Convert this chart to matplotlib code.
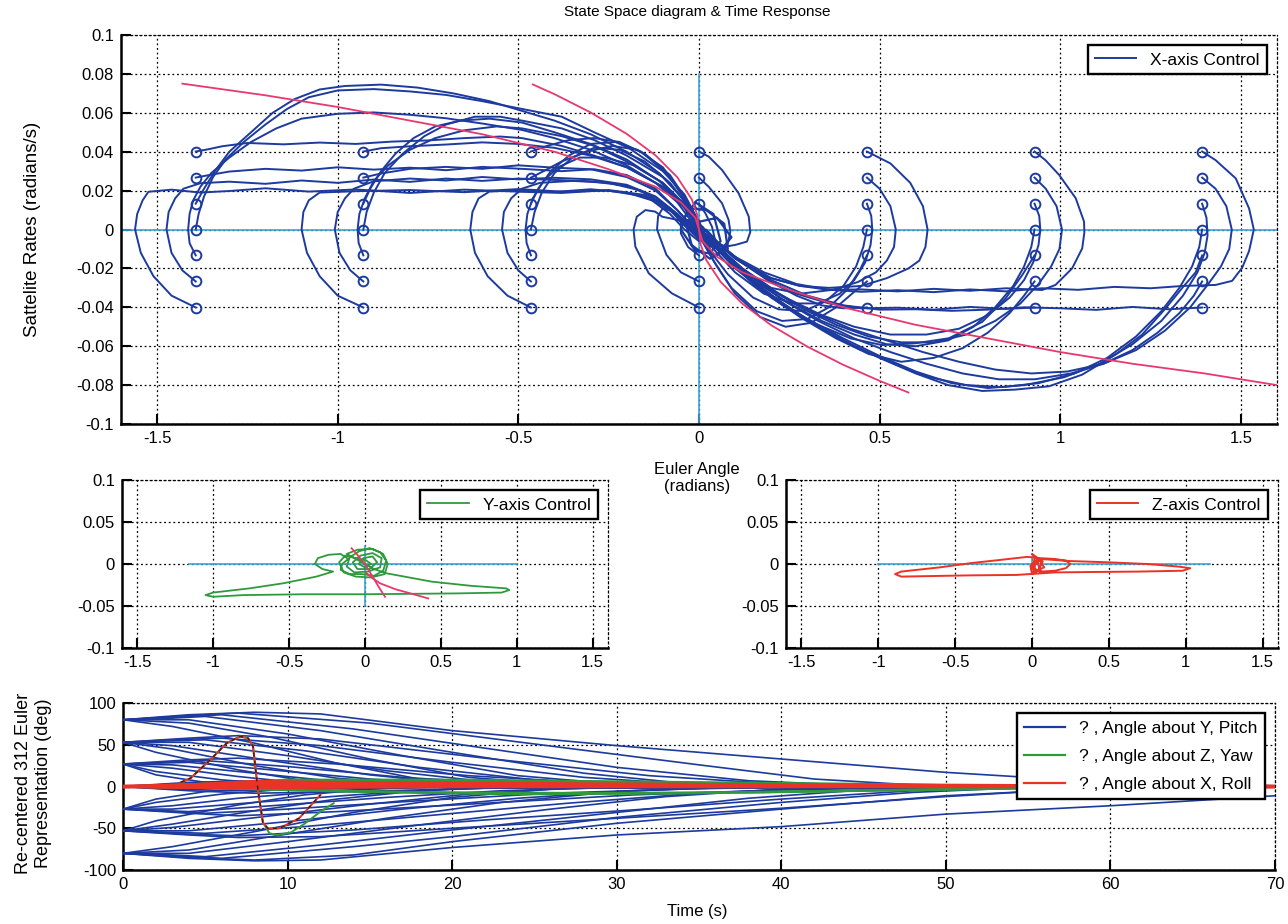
import matplotlib.pyplot as plt
from matplotlib.ticker import FuncFormatter

plt.rcParams['font.family'] = ['Liberation Sans', 'DejaVu Sans']
plt.rcParams['axes.unicode_minus'] = False

BLUE = '#1d3a9e'
GREEN = '#2f9a3c'
RED = '#ea3326'
PINK = '#e8386d'
CYAN = '#3aa6d8'

# ---- X-axis phase plane: starting grid (rad, rad/s) ----
start_angles = [-1.393, -0.929, -0.465, 0.0, 0.465, 0.929, 1.393]
start_rates = [-0.0401, -0.0267, -0.0133, 0.0, 0.0133, 0.0267, 0.0401]

# trajectories per starting angle, lowest starting rate first
col_a = [
    [(-1.393,-0.0401),(-1.46,-0.034),(-1.51,-0.024),(-1.545,-0.012),(-1.561,0.0),(-1.555,0.008),(-1.54,0.015),(-1.524,0.0194),(-1.46,0.0205),(-1.38,0.019),(-1.30,0.0198),(-1.20,0.0212),(-1.08,0.0195),(-0.95,0.0206),(-0.80,0.0188),(-0.65,0.0205),(-0.49,0.0194),(-0.38,0.0188),(-0.25,0.0203),(-0.15,0.0178),(-0.08,0.011),(-0.04,0.003),(0.0,-0.004),(0.02,-0.008),(0.01,-0.002),(0.0,0.0)],
    [(-1.393,-0.0267),(-1.43,-0.021),(-1.46,-0.012),(-1.474,0.0),(-1.468,0.009),(-1.45,0.016),(-1.427,0.021),(-1.38,0.0238),(-1.30,0.0246),(-1.20,0.0235),(-1.10,0.0252),(-1.0,0.024),(-0.90,0.0257),(-0.80,0.0245),(-0.70,0.0262),(-0.60,0.025),(-0.50,0.0262),(-0.40,0.0255),(-0.30,0.0248),(-0.20,0.0225),(-0.12,0.0165),(-0.06,0.008),(-0.02,0.0),(0.01,-0.005),(0.0,0.0)],
    [(-1.393,-0.0133),(-1.41,-0.007),(-1.414,0.0),(-1.41,0.008),(-1.40,0.015),(-1.38,0.022),(-1.35,0.029),(-1.30,0.037),(-1.24,0.045),(-1.17,0.052),(-1.10,0.057),(-1.00,0.0595),(-0.90,0.0602),(-0.80,0.059),(-0.70,0.0572),(-0.60,0.0545),(-0.49,0.0512),(-0.40,0.047),(-0.30,0.041),(-0.20,0.033),(-0.12,0.024),(-0.06,0.014),(-0.02,0.004),(0.01,-0.004),(0.03,-0.010),(0.01,-0.003),(0.0,0.0)],
    [(-1.393,0.0),(-1.385,0.008),(-1.37,0.017),(-1.345,0.027),(-1.31,0.036),(-1.26,0.045),(-1.20,0.054),(-1.14,0.062),(-1.08,0.068),(-1.00,0.0715),(-0.90,0.0722),(-0.80,0.071),(-0.70,0.0692),(-0.60,0.066),(-0.49,0.062),(-0.38,0.058),(-0.29,0.050),(-0.195,0.042),(-0.10,0.030),(-0.04,0.018),(0.0,0.004),(0.03,-0.008),(0.02,-0.004),(0.0,0.0)],
    [(-1.393,0.0133),(-1.37,0.021),(-1.34,0.030),(-1.30,0.040),(-1.24,0.050),(-1.18,0.060),(-1.12,0.067),(-1.05,0.072),(-0.98,0.0738),(-0.88,0.0745),(-0.78,0.073),(-0.68,0.070),(-0.58,0.066),(-0.49,0.061),(-0.40,0.056),(-0.30,0.049),(-0.20,0.040),(-0.11,0.029),(-0.05,0.017),(-0.01,0.005),(0.02,-0.006),(0.0,0.0)],
    [(-1.393,0.0267),(-1.35,0.0282),(-1.30,0.0298),(-1.20,0.0312),(-1.10,0.0303),(-1.00,0.032),(-0.90,0.0308),(-0.80,0.0318),(-0.70,0.0305),(-0.60,0.0322),(-0.49,0.0312),(-0.38,0.030),(-0.29,0.031),(-0.20,0.028),(-0.12,0.021),(-0.06,0.010),(-0.02,0.002),(0.01,-0.004),(0.0,0.0)],
    [(-1.393,0.0401),(-1.36,0.0412),(-1.32,0.0428),(-1.25,0.0445),(-1.15,0.0438),(-1.05,0.0447),(-0.95,0.044),(-0.85,0.0452),(-0.75,0.0458),(-0.65,0.047),(-0.55,0.0478),(-0.49,0.047),(-0.38,0.043),(-0.29,0.038),(-0.20,0.032),(-0.10,0.022),(-0.04,0.012),(0.0,0.0)],
]
col_b = [
    [(-0.929,-0.0401),(-1.0,-0.034),(-1.05,-0.024),(-1.085,-0.012),(-1.10,0.0),(-1.095,0.009),(-1.08,0.015),(-1.05,0.019),(-0.95,0.0197),(-0.80,0.0203),(-0.65,0.0192),(-0.50,0.0208),(-0.38,0.0195),(-0.25,0.020),(-0.15,0.017),(-0.08,0.010),(-0.04,0.002),(0.0,-0.005),(0.02,-0.007),(0.0,0.0)],
    [(-0.929,-0.0267),(-0.965,-0.021),(-0.995,-0.012),(-1.008,0.0),(-1.0,0.009),(-0.98,0.016),(-0.955,0.021),(-0.90,0.0248),(-0.80,0.0262),(-0.70,0.0252),(-0.60,0.027),(-0.50,0.0258),(-0.40,0.0266),(-0.30,0.0258),(-0.20,0.023),(-0.12,0.017),(-0.06,0.008),(-0.02,0.0),(0.01,-0.005),(0.0,0.0)],
    [(-0.929,-0.0133),(-0.942,-0.007),(-0.945,0.0),(-0.94,0.008),(-0.925,0.016),(-0.90,0.025),(-0.86,0.033),(-0.80,0.041),(-0.73,0.047),(-0.65,0.051),(-0.56,0.053),(-0.49,0.052),(-0.38,0.048),(-0.29,0.043),(-0.20,0.035),(-0.10,0.024),(-0.04,0.013),(0.0,0.002),(0.02,-0.006),(0.0,0.0)],
    [(-0.929,0.0),(-0.92,0.009),(-0.90,0.019),(-0.87,0.029),(-0.82,0.039),(-0.76,0.048),(-0.70,0.054),(-0.62,0.058),(-0.55,0.058),(-0.49,0.056),(-0.38,0.052),(-0.29,0.046),(-0.20,0.038),(-0.10,0.027),(-0.04,0.015),(0.0,0.003),(0.03,-0.008),(0.0,0.0)],
    [(-0.929,0.0133),(-0.91,0.021),(-0.88,0.030),(-0.84,0.039),(-0.79,0.047),(-0.73,0.053),(-0.66,0.056),(-0.58,0.057),(-0.49,0.055),(-0.40,0.050),(-0.30,0.044),(-0.20,0.036),(-0.11,0.025),(-0.05,0.014),(-0.01,0.003),(0.02,-0.005),(0.0,0.0)],
    [(-0.929,0.0267),(-0.88,0.0288),(-0.80,0.0312),(-0.70,0.0322),(-0.60,0.0312),(-0.50,0.033),(-0.40,0.0318),(-0.30,0.031),(-0.20,0.027),(-0.12,0.020),(-0.06,0.010),(-0.02,0.002),(0.01,-0.004),(0.0,0.0)],
    [(-0.929,0.0401),(-0.88,0.0418),(-0.80,0.0428),(-0.70,0.0437),(-0.60,0.0448),(-0.50,0.044),(-0.40,0.042),(-0.30,0.038),(-0.20,0.032),(-0.10,0.022),(-0.04,0.011),(0.0,0.0)],
]
col_c = [
    [(-0.465,-0.0401),(-0.53,-0.034),(-0.585,-0.024),(-0.62,-0.012),(-0.633,0.0),(-0.627,0.009),(-0.61,0.016),(-0.58,0.0195),(-0.50,0.0202),(-0.40,0.0193),(-0.30,0.0207),(-0.20,0.019),(-0.13,0.015),(-0.08,0.008),(-0.04,0.0),(0.0,-0.006),(0.02,-0.006),(0.0,0.0)],
    [(-0.465,-0.0267),(-0.50,-0.021),(-0.53,-0.012),(-0.545,0.0),(-0.54,0.009),(-0.52,0.016),(-0.49,0.021),(-0.44,0.024),(-0.35,0.025),(-0.25,0.024),(-0.16,0.020),(-0.09,0.012),(-0.04,0.004),(0.0,-0.004),(0.0,0.0)],
    [(-0.465,-0.0133),(-0.477,-0.007),(-0.48,0.0),(-0.475,0.008),(-0.46,0.016),(-0.43,0.025),(-0.39,0.032),(-0.33,0.037),(-0.26,0.037),(-0.18,0.033),(-0.10,0.024),(-0.04,0.013),(0.0,0.002),(0.02,-0.005),(0.0,0.0)],
    [(-0.465,0.0),(-0.455,0.009),(-0.435,0.019),(-0.40,0.029),(-0.35,0.037),(-0.29,0.042),(-0.22,0.041),(-0.15,0.035),(-0.08,0.024),(-0.03,0.012),(0.0,0.002),(0.02,-0.006),(0.0,0.0)],
    [(-0.465,0.0133),(-0.445,0.021),(-0.41,0.030),(-0.36,0.038),(-0.30,0.044),(-0.23,0.045),(-0.16,0.040),(-0.09,0.029),(-0.04,0.016),(0.0,0.004),(0.02,-0.006),(0.0,0.0)],
    [(-0.465,0.0267),(-0.43,0.030),(-0.38,0.035),(-0.31,0.040),(-0.24,0.043),(-0.17,0.041),(-0.10,0.032),(-0.05,0.019),(-0.01,0.006),(0.02,-0.005),(0.0,0.0)],
    [(-0.465,0.0401),(-0.42,0.043),(-0.36,0.046),(-0.29,0.047),(-0.22,0.045),(-0.15,0.039),(-0.08,0.028),(-0.03,0.014),(0.0,0.003),(0.02,-0.006),(0.0,0.0)],
]
col_d = [
    [(0.0,-0.0401),(-0.075,-0.0328),(-0.139,-0.0225),(-0.176,-0.0088),(-0.181,0.0),(-0.172,0.0066),(-0.148,0.010),(-0.121,0.0092),(-0.102,0.0066),(-0.06,0.005),(-0.03,0.002),(0.0,-0.003),(0.02,-0.006),(0.0,0.0)],
    [(0.0,-0.0267),(-0.05,-0.022),(-0.09,-0.013),(-0.116,0.0),(-0.113,0.007),(-0.10,0.011),(-0.085,0.010),(-0.06,0.008),(-0.03,0.003),(0.0,-0.002),(0.0,0.0)],
    [(0.0,-0.0133),(-0.03,-0.009),(-0.05,-0.002),(-0.05,0.004),(-0.03,0.005),(0.0,0.0)],
    [(0.0,0.0),(0.012,-0.004),(-0.008,0.003),(0.0,0.0)],
    [(0.0,0.0133),(0.018,0.0083),(0.036,0.0015),(0.045,-0.0055),(0.027,-0.0098),(0.01,-0.006),(0.0,0.0)],
    [(0.0,0.0267),(0.027,0.022),(0.064,0.0135),(0.082,0.005),(0.087,-0.001),(0.078,-0.009),(0.055,-0.011),(0.03,-0.007),(0.0,0.0)],
    [(0.0,0.0401),(0.027,0.0375),(0.064,0.0306),(0.11,0.0186),(0.138,0.0066),(0.142,-0.0014),(0.133,-0.0062),(0.101,-0.0079),(0.073,-0.0088),(0.045,-0.0062),(0.02,-0.004),(0.0,0.0)],
]
col_e = [
    [(0.465,-0.0401),(0.40,-0.0405),(0.34,-0.039),(0.27,-0.034),(0.20,-0.027),(0.12,-0.017),(0.05,-0.007),(0.0,0.0)],
    [(0.465,-0.0267),(0.43,-0.032),(0.38,-0.040),(0.31,-0.048),(0.24,-0.050),(0.17,-0.045),(0.10,-0.033),(0.05,-0.019),(0.01,-0.006),(0.0,0.0)],
    [(0.465,-0.0133),(0.445,-0.021),(0.41,-0.031),(0.36,-0.040),(0.30,-0.046),(0.23,-0.047),(0.16,-0.042),(0.09,-0.030),(0.04,-0.016),(0.0,-0.003),(0.0,0.0)],
    [(0.465,0.0),(0.455,-0.009),(0.435,-0.019),(0.40,-0.029),(0.35,-0.037),(0.29,-0.042),(0.22,-0.041),(0.15,-0.035),(0.08,-0.023),(0.03,-0.011),(0.0,-0.002),(0.0,0.0)],
    [(0.465,0.0133),(0.477,0.007),(0.48,0.0),(0.475,-0.008),(0.46,-0.017),(0.43,-0.026),(0.39,-0.033),(0.33,-0.038),(0.26,-0.038),(0.18,-0.033),(0.10,-0.022),(0.04,-0.010),(0.0,0.0)],
    [(0.465,0.0267),(0.50,0.021),(0.53,0.012),(0.545,0.0),(0.54,-0.009),(0.52,-0.016),(0.49,-0.022),(0.44,-0.027),(0.37,-0.031),(0.28,-0.033),(0.20,-0.030),(0.12,-0.020),(0.06,-0.010),(0.02,-0.003),(0.0,0.0)],
    [(0.465,0.0401),(0.53,0.034),(0.585,0.024),(0.62,0.012),(0.633,0.0),(0.627,-0.009),(0.61,-0.016),(0.58,-0.020),(0.52,-0.025),(0.45,-0.029),(0.36,-0.030),(0.28,-0.029),(0.20,-0.025),(0.12,-0.017),(0.06,-0.008),(0.02,0.0),(0.0,0.0)],
]
col_f = [
    [(0.929,-0.0401),(0.85,-0.0408),(0.75,-0.0398),(0.65,-0.0412),(0.55,-0.0402),(0.45,-0.0405),(0.36,-0.038),(0.27,-0.033),(0.19,-0.026),(0.11,-0.016),(0.04,-0.005),(0.0,0.0)],
    [(0.929,-0.0267),(0.90,-0.034),(0.86,-0.043),(0.80,-0.053),(0.73,-0.061),(0.65,-0.066),(0.56,-0.068),(0.47,-0.064),(0.38,-0.056),(0.28,-0.045),(0.18,-0.032),(0.09,-0.017),(0.03,-0.005),(0.0,0.0)],
    [(0.929,-0.0133),(0.895,-0.0234),(0.849,-0.0354),(0.784,-0.0475),(0.692,-0.0559),(0.599,-0.0585),(0.507,-0.0594),(0.42,-0.056),(0.33,-0.049),(0.24,-0.040),(0.15,-0.028),(0.07,-0.014),(0.02,-0.004),(0.0,0.0)],
    [(0.929,0.0),(0.92,-0.009),(0.90,-0.019),(0.87,-0.029),(0.82,-0.040),(0.76,-0.050),(0.69,-0.057),(0.60,-0.060),(0.52,-0.059),(0.43,-0.054),(0.34,-0.047),(0.25,-0.038),(0.15,-0.026),(0.07,-0.013),(0.02,-0.004),(0.0,0.0)],
    [(0.929,0.0133),(0.942,0.007),(0.945,0.0),(0.94,-0.008),(0.925,-0.017),(0.90,-0.026),(0.86,-0.035),(0.80,-0.044),(0.72,-0.051),(0.63,-0.054),(0.53,-0.054),(0.43,-0.050),(0.34,-0.044),(0.25,-0.036),(0.15,-0.025),(0.07,-0.012),(0.02,-0.003),(0.0,0.0)],
    [(0.929,0.0267),(0.96,0.021),(0.99,0.012),(1.005,0.0),(0.998,-0.010),(0.975,-0.019),(0.94,-0.028),(0.89,-0.038),(0.82,-0.047),(0.74,-0.054),(0.65,-0.058),(0.56,-0.058),(0.47,-0.055),(0.38,-0.049),(0.29,-0.041),(0.20,-0.031),(0.11,-0.019),(0.04,-0.007),(0.0,0.0)],
    [(0.929,0.0401),(0.959,0.0357),(0.997,0.0281),(1.043,0.0161),(1.066,0.0041),(1.067,-0.0014),(1.061,-0.0097),(1.033,-0.020),(0.987,-0.0285),(0.95,-0.0311),(0.85,-0.0302),(0.75,-0.0315),(0.65,-0.0305),(0.55,-0.0318),(0.45,-0.0308),(0.36,-0.031),(0.28,-0.029),(0.20,-0.025),(0.12,-0.017),(0.06,-0.008),(0.02,-0.001),(0.0,0.0)],
]
col_g = [
    [(1.393,-0.0401),(1.30,-0.041),(1.20,-0.0398),(1.10,-0.0413),(1.00,-0.0405),(0.90,-0.040),(0.80,-0.0412),(0.70,-0.0418),(0.60,-0.041),(0.50,-0.0412),(0.40,-0.039),(0.30,-0.034),(0.20,-0.026),(0.10,-0.015),(0.03,-0.004),(0.0,0.0)],
    [(1.393,-0.0267),(1.37,-0.034),(1.33,-0.043),(1.27,-0.053),(1.20,-0.062),(1.12,-0.069),(1.03,-0.074),(0.93,-0.077),(0.83,-0.077),(0.73,-0.074),(0.63,-0.069),(0.53,-0.063),(0.43,-0.056),(0.33,-0.047),(0.23,-0.036),(0.13,-0.022),(0.05,-0.009),(0.0,0.0)],
    [(1.393,-0.0133),(1.375,-0.022),(1.338,-0.030),(1.292,-0.0405),(1.227,-0.054),(1.153,-0.0643),(1.061,-0.0746),(0.969,-0.0806),(0.876,-0.0823),(0.784,-0.083),(0.69,-0.080),(0.60,-0.074),(0.50,-0.066),(0.40,-0.057),(0.30,-0.047),(0.20,-0.035),(0.11,-0.021),(0.04,-0.008),(0.0,0.0)],
    [(1.393,0.0),(1.385,-0.009),(1.365,-0.019),(1.33,-0.030),(1.28,-0.042),(1.21,-0.055),(1.13,-0.066),(1.04,-0.074),(0.94,-0.079),(0.84,-0.081),(0.74,-0.080),(0.64,-0.076),(0.54,-0.069),(0.44,-0.061),(0.34,-0.051),(0.24,-0.039),(0.14,-0.025),(0.06,-0.011),(0.0,0.0)],
    [(1.393,0.0133),(1.405,0.006),(1.408,-0.003),(1.40,-0.012),(1.38,-0.022),(1.34,-0.034),(1.28,-0.047),(1.20,-0.059),(1.11,-0.069),(1.01,-0.076),(0.90,-0.080),(0.80,-0.0815),(0.70,-0.079),(0.60,-0.073),(0.50,-0.065),(0.40,-0.056),(0.30,-0.046),(0.20,-0.034),(0.10,-0.020),(0.03,-0.006),(0.0,0.0)],
    [(1.393,0.0267),(1.43,0.021),(1.46,0.012),(1.475,0.0),(1.468,-0.010),(1.445,-0.019),(1.41,-0.028),(1.36,-0.040),(1.29,-0.052),(1.21,-0.062),(1.12,-0.069),(1.02,-0.073),(0.92,-0.074),(0.82,-0.072),(0.72,-0.068),(0.62,-0.063),(0.52,-0.057),(0.42,-0.051),(0.32,-0.043),(0.22,-0.033),(0.12,-0.020),(0.04,-0.007),(0.0,0.0)],
    [(1.393,0.0401),(1.43,0.0357),(1.486,0.0263),(1.523,0.0108),(1.536,0.0),(1.523,-0.011),(1.504,-0.0196),(1.476,-0.0264),(1.43,-0.0285),(1.34,-0.029),(1.25,-0.0302),(1.15,-0.0295),(1.05,-0.031),(0.95,-0.0302),(0.85,-0.0318),(0.75,-0.0308),(0.65,-0.0322),(0.55,-0.0312),(0.45,-0.032),(0.36,-0.031),(0.27,-0.028),(0.18,-0.022),(0.10,-0.014),(0.04,-0.005),(0.0,0.0)],
]
# residual wander of the settled states around the origin
settle_blob = [(0.0,0.0),(0.03,-0.012),(0.06,-0.006),(0.04,0.008),(-0.01,0.014),(-0.04,0.006),(-0.02,-0.008),(0.03,-0.015),(0.08,-0.010),(0.07,0.003),(0.02,0.010),(-0.03,0.011),(-0.05,0.0),(-0.01,-0.011),(0.05,-0.013),(0.09,-0.004),(0.05,0.006),(0.0,0.004),(0.02,-0.004),(0.0,0.0)]

# switching curves
switch_wide_x = [-1.43, -1.2, -1.0, -0.8, -0.6, -0.4, -0.25, -0.12, -0.05, -0.01, 0.0, 0.01, 0.05, 0.12, 0.25, 0.4, 0.6, 0.8, 1.0, 1.2, 1.4, 1.6]
switch_wide_y = [0.075, 0.069, 0.063, 0.056, 0.049, 0.040, 0.031, 0.022, 0.014, 0.006, 0.0, -0.006, -0.014, -0.022, -0.031, -0.040, -0.049, -0.056, -0.063, -0.069, -0.074, -0.080]
switch_steep_x = [-0.46, -0.4, -0.3, -0.2, -0.12, -0.06, -0.02, -0.005, 0.0, 0.005, 0.02, 0.06, 0.12, 0.2, 0.3, 0.4, 0.5, 0.58]
switch_steep_y = [0.0746, 0.0696, 0.0602, 0.0492, 0.0381, 0.0269, 0.0156, 0.0078, 0.0, -0.0078, -0.0156, -0.0269, -0.0381, -0.0492, -0.0602, -0.0696, -0.0778, -0.0838]

# ---- Y-axis and Z-axis phase planes ----
yaw_path = [(0.0,0.0),(0.06,-0.006),(0.14,-0.011),(0.44,-0.021),(0.70,-0.026),(0.93,-0.029),(0.95,-0.031),(0.90,-0.034),(0.60,-0.035),(0.30,-0.0355),(0.0,-0.036),(-0.40,-0.036),(-0.80,-0.037),(-1.0,-0.039),(-1.05,-0.037),(-1.0,-0.034),(-0.76,-0.029),(-0.54,-0.023),(-0.32,-0.015),(-0.21,-0.009),(-0.28,-0.006),(-0.33,0.0),(-0.31,0.007),(-0.24,0.011),(-0.16,0.012),(-0.11,0.006),(-0.15,0.0),(-0.16,-0.007),(-0.10,-0.012),(-0.02,-0.012),(0.06,-0.014),(0.12,-0.008),(0.14,0.004),(0.10,0.014),(0.03,0.019),(-0.04,0.015),(-0.10,0.008),(-0.12,-0.003),(-0.07,-0.010),(0.02,-0.009),(0.10,-0.004),(0.11,0.007),(0.05,0.013),(-0.03,0.010),(-0.08,0.002),(-0.05,-0.006),(0.03,-0.006),(0.08,0.002),(0.05,0.009),(-0.01,0.007),(-0.04,0.0),(0.0,-0.004),(0.04,0.0),(0.01,0.004),(-0.13,0.010),(-0.17,0.002),(-0.14,-0.010),(-0.06,-0.015),(0.04,-0.016),(0.13,-0.012),(0.15,0.0),(0.12,0.012),(0.05,0.018),(-0.05,0.017),(-0.12,0.012),(0.0,0.0)]
yaw_switch_a_x = [-0.088, -0.05, -0.02, 0.0, 0.03, 0.07, 0.10, 0.132]
yaw_switch_a_y = [0.0187, 0.011, 0.004, 0.0, -0.009, -0.021, -0.030, -0.039]
yaw_switch_b_x = [0.011, 0.05, 0.10, 0.20, 0.30, 0.417]
yaw_switch_b_y = [-0.011, -0.017, -0.023, -0.030, -0.035, -0.041]

roll_path = [(0.0,0.0),(0.05,0.006),(0.25,0.0035),(0.50,0.002),(0.75,0.0),(0.95,-0.003),(1.03,-0.005),(0.98,-0.008),(0.70,-0.009),(0.40,-0.0095),(0.15,-0.010),(-0.10,-0.013),(-0.40,-0.0135),(-0.70,-0.0145),(-0.85,-0.015),(-0.89,-0.012),(-0.85,-0.009),(-0.60,-0.004),(-0.40,0.001),(-0.20,0.005),(-0.03,0.0085),(0.05,0.007),(0.15,0.006),(0.22,0.004),(0.25,0.0),(0.22,-0.005),(0.15,-0.008),(0.06,-0.009),(0.0,-0.005),(0.02,0.008),(0.0,0.012),(0.07,0.003),(0.04,-0.008),(0.0,-0.012),(-0.01,-0.002),(0.05,0.004),(0.08,-0.004),(0.01,-0.009),(0.03,0.005),(0.06,-0.010),(0.02,-0.006),(0.0,0.0)]

# ---- Euler angle time histories (t in s, angle in deg) ----
pitch_p80 = [
    [(0,80),(4,86),(8,89),(12,87),(20,67),(30,49),(40,33),(50,17),(60,5),(70,1)],
    [(0,80),(4,85),(7,88),(15,76),(25,51),(35,26),(42,9),(48,2),(70,0)],
    [(0,80),(3,83),(6,86),(14,69),(22,46),(30,23),(38,7),(45,1),(70,0)],
    [(0,80),(3,82),(5,84),(12,67),(20,41),(28,16),(34,4),(40,1),(70,0)],
    [(0,80),(4,80),(10,63),(17,37),(24,13),(30,3),(36,0),(70,0)],
    [(0,80),(4,76),(9,59),(15,33),(21,11),(27,2),(70,0)],
    [(0,80),(3,72),(8,52),(13,28),(18,9),(24,2),(70,0)],
]
pitch_p53 = [
    [(0,53),(4,58),(7,61),(12,57),(22,34),(32,13),(40,3),(70,0)],
    [(0,53),(3,56),(6,58),(12,49),(20,29),(28,11),(35,2),(70,0)],
    [(0,53),(5,56),(11,43),(18,23),(25,8),(31,1),(70,0)],
    [(0,53),(4,53),(10,37),(16,19),(22,6),(28,1),(70,0)],
    [(0,53),(3,49),(9,31),(15,14),(20,4),(25,0),(70,0)],
    [(0,53),(3,45),(8,25),(13,10),(18,2),(70,0)],
    [(0,53),(2,41),(7,20),(11,7),(16,1),(70,0)],
]
pitch_p27 = [
    [(0,27),(4,32),(7,34),(13,27),(21,13),(29,4),(35,0),(70,0)],
    [(0,27),(5,31),(10,24),(17,11),(24,3),(70,0)],
    [(0,27),(4,29),(9,20),(15,9),(21,2),(70,0)],
    [(0,27),(3,26),(8,16),(13,6),(18,1),(70,0)],
    [(0,27),(3,22),(7,12),(11,4),(16,0),(70,0)],
    [(0,27),(2,18),(6,8),(10,2),(70,0)],
    [(0,27),(2,14),(5,5),(9,1),(70,0)],
]
pitch_0 = [
    [(0,0),(4,5),(8,7),(14,4),(20,1),(70,0)],
    [(0,0),(3,3),(7,4),(12,2),(70,0)],
    [(0,0),(3,1),(8,1),(70,0)],
    [(0,0),(70,0)],
    [(0,0),(3,-1),(8,-1),(70,0)],
    [(0,0),(3,-3),(7,-5),(12,-3),(18,-1),(70,0)],
    [(0,0),(4,-5),(8,-8),(14,-6),(22,-2),(70,0)],
]
pitch_m27 = [
    [(0,-27),(4,-32),(7,-35),(13,-30),(22,-20),(31,-10),(40,-4),(50,-1),(70,0)],
    [(0,-27),(5,-32),(10,-27),(18,-17),(26,-8),(34,-3),(42,0),(70,0)],
    [(0,-27),(4,-30),(9,-23),(16,-13),(23,-5),(30,-1),(70,0)],
    [(0,-27),(3,-27),(8,-19),(14,-10),(20,-3),(26,0),(70,0)],
    [(0,-27),(3,-23),(7,-14),(12,-6),(17,-1),(70,0)],
    [(0,-27),(2,-19),(6,-9),(10,-3),(15,0),(70,0)],
    [(0,-27),(2,-15),(5,-6),(9,-1),(70,0)],
]
pitch_m53 = [
    [(0,-53),(4,-58),(7,-61),(12,-60),(20,-50),(30,-38),(40,-26),(50,-12),(56,-5),(62,-1),(70,0)],
    [(0,-53),(4,-57),(7,-59),(14,-52),(22,-40),(31,-28),(40,-15),(48,-5),(55,-1),(70,0)],
    [(0,-53),(5,-56),(11,-48),(19,-34),(27,-20),(35,-8),(42,-2),(70,0)],
    [(0,-53),(4,-53),(10,-42),(17,-27),(24,-14),(31,-5),(37,-1),(70,0)],
    [(0,-53),(3,-49),(9,-35),(15,-21),(21,-9),(27,-2),(70,0)],
    [(0,-53),(3,-45),(8,-29),(13,-15),(18,-5),(23,-1),(70,0)],
    [(0,-53),(2,-41),(7,-22),(11,-10),(15,-3),(20,0),(70,0)],
]
pitch_m80 = [
    [(0,-80),(4,-86),(8,-89),(12,-88),(20,-73),(30,-58),(40,-48),(50,-33),(60,-23),(70,-11)],
    [(0,-80),(4,-85),(8,-88),(14,-82),(20,-66),(30,-44),(40,-27),(50,-11),(57,-4),(62,-1),(70,0)],
    [(0,-80),(3,-83),(6,-86),(14,-72),(20,-60),(30,-37),(40,-19),(48,-7),(55,-1),(70,0)],
    [(0,-80),(3,-82),(5,-84),(12,-70),(20,-52),(30,-31),(38,-14),(45,-4),(52,0),(70,0)],
    [(0,-80),(4,-80),(10,-66),(18,-46),(26,-27),(33,-12),(40,-3),(46,0),(70,0)],
    [(0,-80),(4,-76),(9,-60),(16,-38),(23,-19),(30,-6),(36,-1),(70,0)],
    [(0,-80),(3,-72),(8,-54),(14,-31),(20,-13),(26,-3),(32,0),(70,0)],
]
yaw_lines = [
    [(0,0),(3,1),(6,4),(10,8),(20,8),(30,6),(40,4),(50,2),(60,1),(70,0)],
    [(0,0),(4,2),(8,6),(15,7),(25,5),(35,3),(45,1),(70,0)],
    [(0,0),(5,-1),(10,-4),(18,-7),(28,-8),(38,-7),(48,-4),(58,-1),(70,0)],
    [(0,0),(6,-2),(14,-6),(24,-9),(34,-8),(44,-5),(55,-2),(70,0)],
    [(0,0),(5,3),(12,5),(25,4),(40,2),(55,1),(70,0)],
]
yaw_swing = [(3.5,4),(4.1,10),(5.3,32),(6.3,52),(7.1,60),(7.6,58),(7.9,48),(8.2,-4),(8.5,-43),(8.9,-56),(9.4,-58),(10.2,-55),(11.0,-45),(12.0,-30),(12.8,-20)]
roll_lines = [
    [(0,0),(3,1),(6,4),(8,6),(12,5),(20,4),(30,3),(40,2),(50,1),(60,1),(70,0)],
    [(0,0),(4,2),(8,3),(15,3),(25,2),(35,2),(50,1),(70,0)],
    [(0,0),(5,1),(10,2),(20,1),(35,1),(70,0)],
    [(0,0),(4,-1),(10,-1),(20,0),(70,0)],
]
roll_swing = [(3.5,5),(4.1,10),(5.3,32),(6.3,52),(7.1,60),(7.6,58),(7.9,48),(8.2,-4),(8.5,-43),(8.8,-50),(9.5,-50),(10.7,-38),(12.0,-10)]


def fmt(v, pos):
    return f'{v:g}'


def style_axes(ax):
    ax.grid(True, color='k', linestyle=(0, (1.5, 2.2)), linewidth=0.9)
    ax.set_axisbelow(True)
    for side in ('left', 'bottom'):
        ax.spines[side].set_linewidth(1.8)
    for side in ('top', 'right'):
        ax.spines[side].set_linestyle((0, (1.5, 2.2)))
        ax.spines[side].set_linewidth(0.9)
    ax.tick_params(direction='in', length=7, width=1.5, labelsize=12, pad=5)
    ax.xaxis.set_major_formatter(FuncFormatter(fmt))
    ax.yaxis.set_major_formatter(FuncFormatter(fmt))


def add_legend(ax, **kw):
    leg = ax.legend(loc='upper right', fontsize=12.5, fancybox=False,
                    edgecolor='k', framealpha=1, borderaxespad=0.6,
                    handlelength=2.4, **kw)
    leg.get_frame().set_linewidth(1.7)
    return leg


def draw_path(ax, pts, **kw):
    xs, ys = zip(*pts)
    return ax.plot(xs, ys, **kw)


fig = plt.figure(figsize=(12.88, 9.24), dpi=100)

# top: X-axis phase plane
ax1 = fig.add_axes([0.0939, 0.5411, 0.8975, 0.421])
ax1.plot([-1.6, 1.6], [0, 0], color=CYAN, lw=1.2, zorder=2)
ax1.plot([0, 0], [0.08, -0.1], color=CYAN, lw=1.2, zorder=2)
first = True
for col in (col_a, col_b, col_c, col_d, col_e, col_f, col_g):
    for path in col:
        draw_path(ax1, path, color=BLUE, lw=1.4, zorder=3,
                  label='X-axis Control' if first else None)
        first = False
draw_path(ax1, settle_blob, color=BLUE, lw=1.6, zorder=3)
for a in start_angles:
    ax1.plot([a] * len(start_rates), start_rates, 'o', mfc='none', mec=BLUE,
             ms=7, mew=1.4, zorder=4)
ax1.plot(switch_wide_x, switch_wide_y, color=PINK, lw=1.3, zorder=5)
ax1.plot(switch_steep_x, switch_steep_y, color=PINK, lw=1.3, zorder=5)
ax1.set_xlim(-1.6, 1.6)
ax1.set_ylim(-0.1, 0.1)
ax1.set_xticks([-1.5, -1, -0.5, 0, 0.5, 1, 1.5])
ax1.set_yticks([-0.1, -0.08, -0.06, -0.04, -0.02, 0, 0.02, 0.04, 0.06, 0.08, 0.1])
style_axes(ax1)
add_legend(ax1)

# middle left: Y-axis phase plane
ax2 = fig.add_axes([0.0947, 0.2987, 0.3773, 0.1818])
ax2.plot([-1.16, 1.0], [0, 0], color=CYAN, lw=1.2, zorder=2)
ax2.plot([0, 0], [0.022, -0.05], color=CYAN, lw=1.2, zorder=2)
draw_path(ax2, yaw_path, color=GREEN, lw=1.3, zorder=3, label='Y-axis Control')
ax2.plot(yaw_switch_a_x, yaw_switch_a_y, color=PINK, lw=1.3, zorder=4)
ax2.plot(yaw_switch_b_x, yaw_switch_b_y, color=PINK, lw=1.3, zorder=4)
ax2.set_xlim(-1.6, 1.6)
ax2.set_ylim(-0.1, 0.1)
ax2.set_xticks([-1.5, -1, -0.5, 0, 0.5, 1, 1.5])
ax2.set_yticks([-0.1, -0.05, 0, 0.05, 0.1])
style_axes(ax2)
add_legend(ax2)

# middle right: Z-axis phase plane
ax3 = fig.add_axes([0.6102, 0.2987, 0.382, 0.1818])
ax3.plot([-1.0, 1.16], [0, 0], color=CYAN, lw=1.2, zorder=2)
ax3.plot([0, 0], [0.008, -0.012], color=CYAN, lw=1.2, zorder=2)
draw_path(ax3, roll_path, color=RED, lw=1.4, zorder=3, label='Z-axis Control')
ax3.set_xlim(-1.6, 1.6)
ax3.set_ylim(-0.1, 0.1)
ax3.set_xticks([-1.5, -1, -0.5, 0, 0.5, 1, 1.5])
ax3.set_yticks([-0.1, -0.05, 0, 0.05, 0.1])
style_axes(ax3)
add_legend(ax3)

# bottom: time histories
ax4 = fig.add_axes([0.0955, 0.0584, 0.8944, 0.1807])
first = True
for group in (pitch_p80, pitch_p53, pitch_p27, pitch_0, pitch_m27, pitch_m53, pitch_m80):
    for line in group:
        draw_path(ax4, line, color=BLUE, lw=1.2, zorder=3,
                  label='? , Angle about Y, Pitch' if first else None)
        first = False
first = True
for line in yaw_lines:
    draw_path(ax4, line, color=GREEN, lw=1.8, zorder=4,
              label='? , Angle about Z, Yaw' if first else None)
    first = False
draw_path(ax4, yaw_swing, color=GREEN, lw=1.4, zorder=4)
first = True
for line in roll_lines:
    draw_path(ax4, line, color=RED, lw=2.4, zorder=5,
              label='? , Angle about X, Roll' if first else None)
    first = False
draw_path(ax4, roll_swing, color=RED, lw=1.4, zorder=5)
draw_path(ax4, roll_swing, color='#3a1a1a', lw=1.0, ls=(0, (3, 3)), zorder=6)
ax4.set_xlim(0, 70)
ax4.set_ylim(-100, 100)
ax4.set_xticks([0, 10, 20, 30, 40, 50, 60, 70])
ax4.set_yticks([-100, -50, 0, 50, 100])
style_axes(ax4)
leg = add_legend(ax4, labelspacing=0.75)
for h in leg.get_lines():
    h.set_linewidth(1.6)

fig.text(0.541, 0.987, 'State Space diagram & Time Response', ha='center',
         va='center', fontsize=11)
fig.text(0.0256, 0.7516, 'Sattelite Rates (radians/s)', rotation=90,
         ha='center', va='center', fontsize=13.5)
fig.text(0.541, 0.4827, 'Euler Angle\n(radians)', ha='center', va='center',
         fontsize=12, linespacing=1.2)
fig.text(0.026, 0.1526, 'Re-centered 312 Euler\nRepresentation (deg)',
         rotation=90, ha='center', va='center', fontsize=13, linespacing=1.3)
fig.text(0.541, 0.013, 'Time (s)', ha='center', va='center', fontsize=12)

fig.savefig('out.png', dpi=100)
